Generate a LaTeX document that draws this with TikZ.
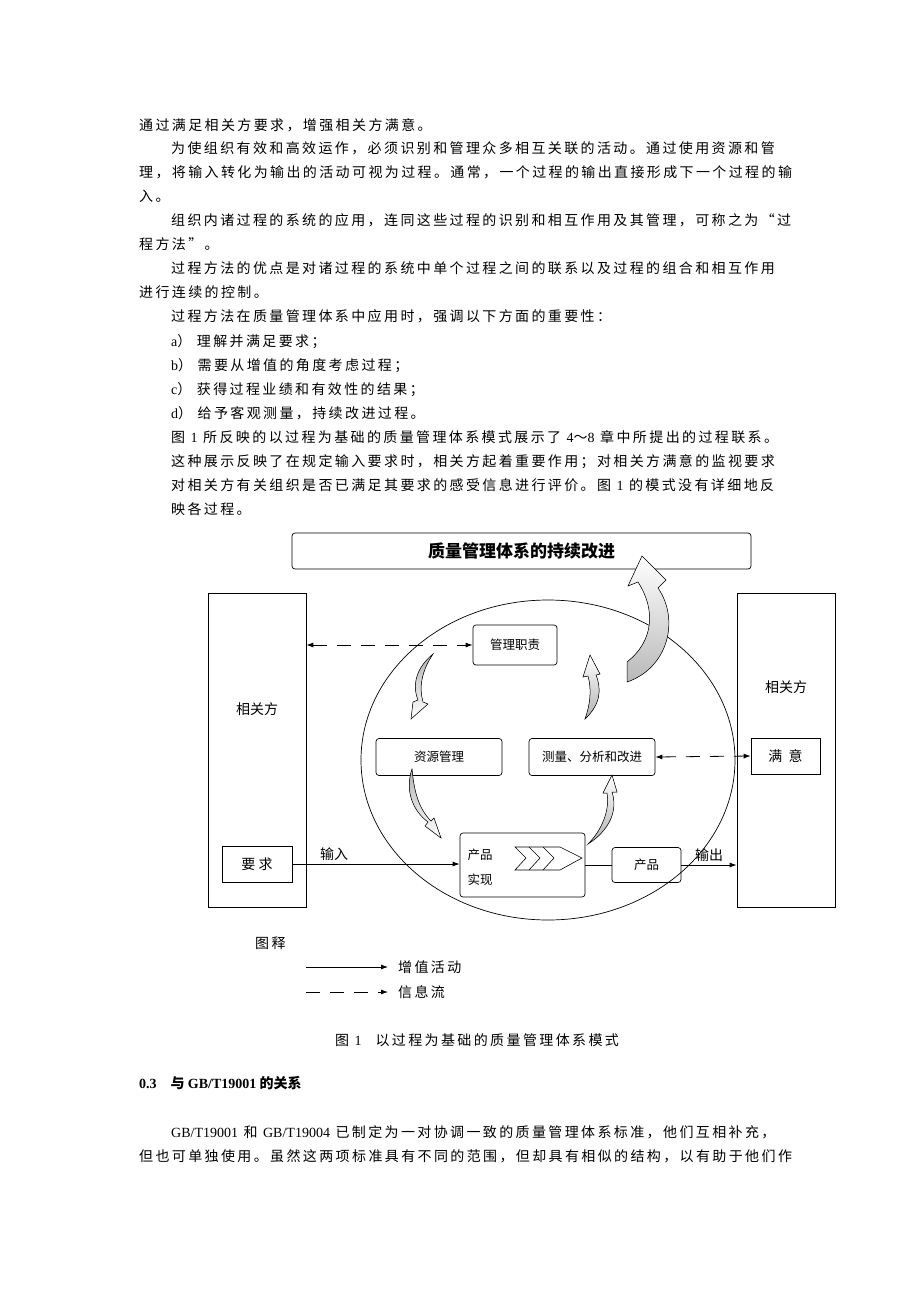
\documentclass[tikz,border=0pt]{standalone}
\usepackage{fontspec}
\setmainfont{Noto Sans CJK SC}
\newfontfamily\tm{Liberation Serif}
\newcommand{\lat}[1]{{\tm #1}}
\usetikzlibrary{arrows.meta}
\begin{document}
\begin{tikzpicture}[x=1pt,y=-1pt,
 body/.style={anchor=base west,inner sep=0,font=\fontsize{14}{14}\selectfont\addfontfeature{LetterSpace=17}},
 box/.style={draw,rounded corners=3pt,line width=0.7pt},
 lbl/.style={font=\fontsize{12.5}{13}\selectfont},
 arr/.style={-{Latex[length=7pt,width=5pt]},line width=0.8pt},
 darr/.style={arr,dash pattern=on 14pt off 10pt},
 cur/.style={draw,line width=0.5pt}]
\useasboundingbox[fill=white] (0,0) rectangle (920,1302);
% body text
\node[body] (t1) at (139,130) {通过满足相关方要求，增强相关方满意。};
\node[body] (t2) at (171,153) {为使组织有效和高效运作，必须识别和管理众多相互关联的活动。通过使用资源和管};
\node[body] (t3) at (139,177) {理，将输入转化为输出的活动可视为过程。通常，一个过程的输出直接形成下一个过程的输};
\node[body] (t4) at (139,201) {入。};
\node[body] (t5) at (171,225) {组织内诸过程的系统的应用，连同这些过程的识别和相互作用及其管理，可称之为“过};
\node[body] (t6) at (139,249) {程方法”。};
\node[body] (t7) at (171,273) {过程方法的优点是对诸过程的系统中单个过程之间的联系以及过程的组合和相互作用};
\node[body] (t8) at (139,297) {进行连续的控制。};
\node[body] (t9) at (171,321) {过程方法在质量管理体系中应用时，强调以下方面的重要性：};
\node[body] (t10) at (171,346) {\lat{a}） 理解并满足要求；};
\node[body] (t11) at (171,370) {\lat{b}） 需要从增值的角度考虑过程；};
\node[body] (t12) at (171,394) {\lat{c}） 获得过程业绩和有效性的结果；};
\node[body] (t13) at (171,418) {\lat{d}） 给予客观测量，持续改进过程。};
\node[body] (t14) at (171,442) {图 \lat{1} 所反映的以过程为基础的质量管理体系模式展示了 \lat{4}～\lat{8} 章中所提出的过程联系。};
\node[body] (t15) at (171,466) {这种展示反映了在规定输入要求时，相关方起着重要作用；对相关方满意的监视要求};
\node[body] (t16) at (171,490) {对相关方有关组织是否已满足其要求的感受信息进行评价。图 \lat{1} 的模式没有详细地反};
\node[body] (t17) at (171,514) {映各过程。};
% diagram
\node[box,minimum width=459pt,minimum height=36pt,font=\fontsize{17}{17}\selectfont\bfseries] (title) at (521.5,551) {质量管理体系的持续改进};
\draw[line width=0.7pt] (548,760) ellipse [x radius=187, y radius=160];
\node[draw,line width=0.7pt,minimum width=98pt,minimum height=314pt] (L) at (257,750) {};
\node[draw,line width=0.7pt,minimum width=98pt,minimum height=314pt] (R) at (786,750) {};
\node[lbl,font=\fontsize{14}{14}\selectfont] (Lt) at (257,709) {相关方};
\node[lbl,font=\fontsize{14}{14}\selectfont] (Rt) at (786,687) {相关方};
\node[box,minimum width=84pt,minimum height=40pt,lbl] (mgr) at (515,645) {管理职责};
\node[box,minimum width=126pt,minimum height=37pt,lbl] (res) at (439,757) {资源管理};
\node[box,minimum width=126pt,minimum height=37pt,lbl] (mea) at (592,757) {测量、分析和改进};
\node[box,minimum width=125pt,minimum height=64pt] (prod) at (522.5,865) {};
\node[lbl,anchor=west] (p1) at (464,855) {产品};
\node[lbl,anchor=west] (p2) at (464,880) {实现};
\node[box,minimum width=69pt,minimum height=35pt,lbl] (out) at (646.5,865) {产品};
\node[draw,line width=0.7pt,minimum width=70pt,minimum height=36pt,font=\fontsize{14}{14}\selectfont] (req) at (257,864) {要\ 求};
\node[draw,line width=0.7pt,minimum width=69pt,minimum height=36pt,font=\fontsize{14}{14}\selectfont] (sat) at (785.5,756) {满\ \ 意};
% chevrons
\draw[line width=0.6pt] (515,847) -- (560,847) -- (582,858) -- (560,870) -- (515,870) -- (526,858) -- cycle;
\draw[line width=0.6pt] (529,847) -- (540,858) -- (529,870);
\draw[line width=0.6pt] (543,847) -- (554,858) -- (543,870);
% connectors
\draw[darr,{Latex[length=7pt,width=5pt]}-{Latex[length=7pt,width=5pt]}] (L.east |- mgr) -- (mgr.west);
\draw[darr,{Latex[length=7pt,width=5pt]}-{Latex[length=7pt,width=5pt]}] (mea.east) -- (sat.west);
\draw[arr] (req.east) -- node[above,lbl,pos=0.25,font=\fontsize{14}{14}\selectfont] {输入} (prod.west |- req.east);
\draw[line width=0.8pt] (prod.east |- out.west) -- (out.west);
\draw[arr] (out.east) -- node[above,font=\fontsize{14}{14}\selectfont] {输出} (R.west |- out.east);
% curved arrows
\filldraw[cur,bottom color=gray!55,top color=white] (627,682) .. controls (668,668) and (680,620) .. (658,588) -- (666,580) -- (642,556) -- (628,586) -- (638,582) .. controls (655,608) and (655,640) .. (627,662) -- cycle;
\filldraw[cur,top color=gray!60,bottom color=white] (433,654) .. controls (416,668) and (412,685) .. (418,700) -- (413,702) -- (411,719) -- (428,704) -- (423,702) .. controls (419,688) and (421,672) .. (433,654) -- cycle;
\filldraw[cur,bottom color=gray!60,top color=white] (585,719) .. controls (600,705) and (602,690) .. (596,675) -- (600,674) -- (590,655) -- (583,677) -- (588,676) .. controls (592,690) and (590,705) .. (585,719) -- cycle;
\filldraw[cur,top color=gray!60,bottom color=white] (412,769) .. controls (405,790) and (412,810) .. (428,822) -- (425,826) -- (441,838) -- (434,818) -- (431,821) .. controls (418,808) and (414,790) .. (412,769) -- cycle;
\filldraw[cur,bottom color=gray!60,top color=white] (588,844) .. controls (610,830) and (618,810) .. (612,792) -- (617,792) -- (612,775) -- (603,793) -- (607,793) .. controls (610,810) and (602,830) .. (588,844) -- cycle;
% legend
\node[body] (lg) at (255,948) {图释};
\coordinate (s1) at (306,967); \coordinate (e1) at (388,967);
\coordinate (s2) at (306,992); \coordinate (e2) at (388,992);
\draw[arr] (s1) -- (e1);
\draw[darr] (s2) -- (e2);
\node[body] (lg1) at (398,972) {增值活动};
\node[body] (lg2) at (398,997) {信息流};
\node[body,anchor=base] (cap) at (477,1045) {图 \lat{1}\quad 以过程为基础的质量管理体系模式};
\node[anchor=base west,inner sep=0,font=\fontsize{14}{14}\selectfont\bfseries] (sec) at (139,1088) {{\tm\bfseries 0.3}\quad 与 {\tm\bfseries GB/T19001} 的关系};
\node[body] (b1) at (171,1137) {\lat{GB/T19001} 和 \lat{GB/T19004} 已制定为一对协调一致的质量管理体系标准，他们互相补充，};
\node[body] (b2) at (139,1161) {但也可单独使用。虽然这两项标准具有不同的范围，但却具有相似的结构，以有助于他们作};
\end{tikzpicture}
\end{document}
